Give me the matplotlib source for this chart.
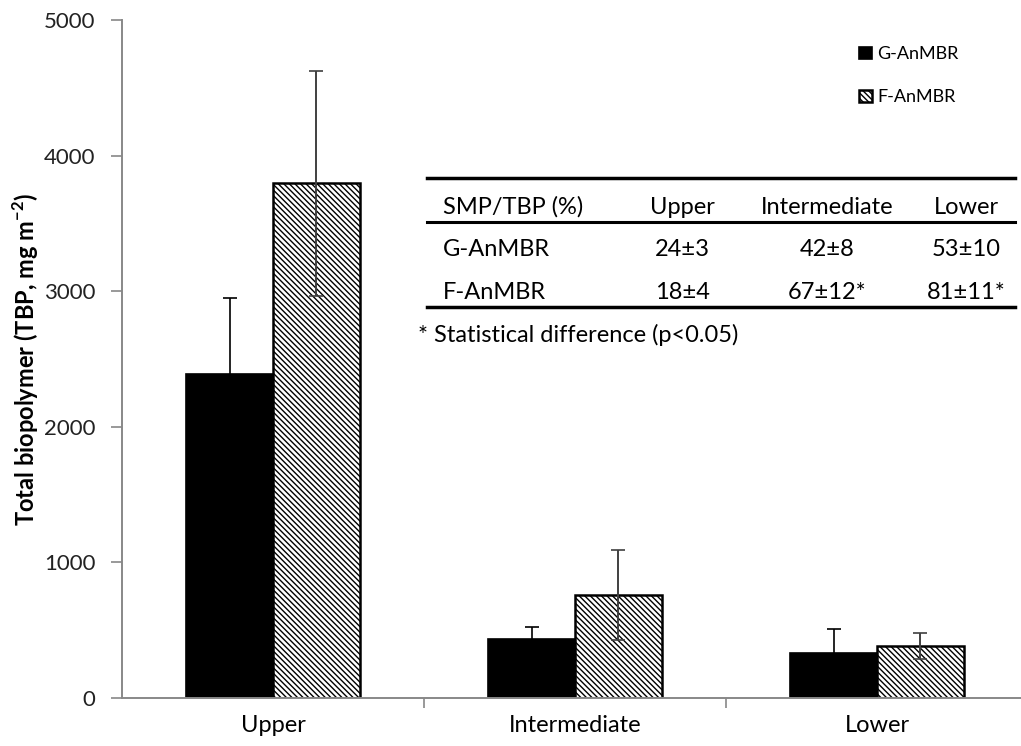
import numpy as np
import matplotlib
matplotlib.use("Agg")
import matplotlib.pyplot as plt
from matplotlib.lines import Line2D

categories = ["Upper", "Intermediate", "Lower"]
g_values = [2390, 435, 332]
g_errors = [560, 90, 177]
f_values = [3795, 760, 383]
f_errors = [830, 330, 95]

table_header = ["SMP/TBP (%)", "Upper", "Intermediate", "Lower"]
table_rows = [
    ["G-AnMBR", "24±3", "42±8", "53±10"],
    ["F-AnMBR", "18±4", "67±12*", "81±11*"],
]
footnote = "* Statistical difference (p<0.05)"

W, H = 1021, 746
TXT = ["Lato", "DejaVu Sans"]
plt.rcParams["hatch.linewidth"] = 1.0
plt.rcParams["mathtext.fontset"] = "custom"
plt.rcParams["mathtext.rm"] = "Lato"
plt.rcParams["mathtext.bf"] = "Lato:bold"

fig = plt.figure(figsize=(W / 100, H / 100), dpi=100)


def fx(px):
    return px / W


def fy(py):
    return 1 - py / H


left, right, top, bottom = 122, 1028, 20, 698
ax = fig.add_axes([fx(left), fy(bottom), fx(right - left), fy(top) - fy(bottom)])

x = np.arange(len(categories))
width = 0.288
gbars = ax.bar(x - width / 2, g_values, width, color="black", edgecolor="black",
               linewidth=1.2, label="G-AnMBR", zorder=2)
fbars = ax.bar(x + width / 2, f_values, width, color="white", edgecolor="black",
               hatch="\\" * 6, linewidth=1.8, label="F-AnMBR", zorder=2)
ax.errorbar(x - width / 2, g_values, yerr=g_errors, fmt="none", ecolor="black",
            elinewidth=1.2, capsize=5, capthick=1.2, zorder=3)
ax.errorbar(x + width / 2, f_values, yerr=f_errors, fmt="none", ecolor="#404040",
            elinewidth=1.4, capsize=5, capthick=1.2, zorder=3)

ax.set_xlim(-0.5, 2.5)
ax.set_ylim(0, 5000)
ax.set_yticks([0, 1000, 2000, 3000, 4000, 5000])
ax.set_xticks(x)
ax.set_xticklabels(categories, fontsize=17, family=TXT)
ax.set_xticks([0.5, 1.5], minor=True)
ax.tick_params(axis="x", which="major", length=0, pad=12)
ax.tick_params(axis="x", which="minor", length=7, color="#888888", width=1.2)
ax.tick_params(axis="y", length=8, color="#888888", width=1.2, pad=11, labelsize=16)
for lab in ax.get_yticklabels():
    lab.set_family(TXT)
    lab.set_color("#222222")

for s in ["top", "right"]:
    ax.spines[s].set_visible(False)
for s in ["left", "bottom"]:
    ax.spines[s].set_color("#888888")
    ax.spines[s].set_linewidth(1.4)

ax.set_ylabel("Total biopolymer (TBP, mg m$^{\\mathbf{-2}}$)", fontsize=17,
              fontweight="bold", family=TXT, labelpad=2)

ax.legend(handles=[gbars, fbars], loc="upper left", bbox_to_anchor=(fx(843), fy(30)),
          bbox_transform=fig.transFigure, frameon=False,
          handlelength=0.7, handleheight=0.7, handletextpad=0.3,
          labelspacing=1.5, prop={"family": TXT, "size": 13})

# inset table
col_x = [443, 682, 827, 966]
row_y = [207, 250, 292]
for j, txt in enumerate(table_header):
    fig.text(fx(col_x[j]), fy(row_y[0]), txt, fontsize=17, family=TXT,
             ha="left" if j == 0 else "center", va="center")
for i, row in enumerate(table_rows):
    for j, txt in enumerate(row):
        fig.text(fx(col_x[j]), fy(row_y[i + 1]), txt, fontsize=17, family=TXT,
                 ha="left" if j == 0 else "center", va="center")
for py, lw in [(178, 2.5), (222, 2.2), (307, 2.5)]:
    fig.add_artist(Line2D([fx(427), fx(1015)], [fy(py), fy(py)], color="black",
                          linewidth=lw, transform=fig.transFigure))
fig.text(fx(418), fy(335), footnote, fontsize=17, family=TXT, ha="left", va="center")

fig.savefig("out.png", dpi=100)
